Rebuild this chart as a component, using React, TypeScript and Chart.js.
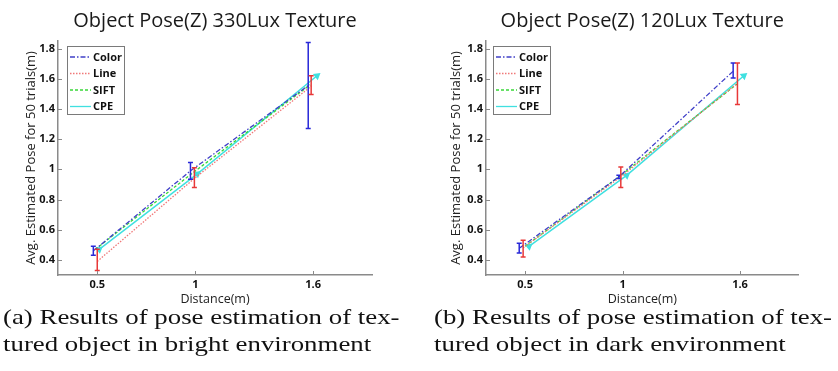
import React, { useEffect, useRef } from "react";
import { Chart, registerables } from "chart.js";
Chart.register(...registerables);

const X_TICKS = [0.5, 1, 1.6];
const Y_TICKS = [0.4, 0.6, 0.8, 1, 1.2, 1.4, 1.6, 1.8];
const SERIES_NAMES = ["Color", "Line", "SIFT", "CPE"];

// (a) 330Lux
const A_TITLE = "Object Pose(Z) 330Lux Texture";
const A_COLOR_X = [0.48, 0.975, 1.575];
const A_COLOR_Y = [0.46, 0.99, 1.555];
const A_COLOR_LO = [0.43, 0.935, 1.27];
const A_COLOR_HI = [0.49, 1.045, 1.84];
const A_LINE_X = [0.5, 0.995, 1.59];
const A_LINE_Y = [0.39, 0.94, 1.55];
const A_LINE_LO = [0.33, 0.88, 1.495];
const A_LINE_HI = [0.47, 1.01, 1.62];
const A_SIFT_X = [0.49, 0.985, 1.585];
const A_SIFT_Y = [0.47, 0.975, 1.56];
const A_CPE_X = [0.51, 1.01, 1.62];
const A_CPE_Y = [0.47, 0.97, 1.62];

// (b) 120Lux
const B_TITLE = "Object Pose(Z) 120Lux Texture";
const B_COLOR_X = [0.47, 0.98, 1.565];
const B_COLOR_Y = [0.477, 0.95, 1.65];
const B_COLOR_LO = [0.445, 0.94, 1.605];
const B_COLOR_HI = [0.51, 0.96, 1.705];
const B_LINE_X = [0.49, 0.99, 1.587];
const B_LINE_Y = [0.48, 0.95, 1.57];
const B_LINE_LO = [0.42, 0.88, 1.43];
const B_LINE_HI = [0.53, 1.015, 1.705];
const B_SIFT_X = [0.5, 1.0, 1.59];
const B_SIFT_Y = [0.49, 0.97, 1.57];
const B_CPE_X = [0.52, 1.02, 1.62];
const B_CPE_Y = [0.49, 0.96, 1.62];

const CAPTION_A = ["(a) Results of pose estimation of tex-", "tured object in bright environment"];
const CAPTION_B = ["(b) Results of pose estimation of tex-", "tured object in dark environment"];

const FONT = "'Open Sans', 'Noto Sans', sans-serif";
const AXIS_GRAY = "#8a8a8a";

const pts = (xs: number[], ys: number[]) => xs.map((x, i) => ({ x, y: ys[i] }));

const errorBarPlugin = {
  id: "errorBars",
  afterDatasetsDraw(chart: any) {
    const { ctx } = chart;
    const xs = chart.scales.x;
    const ys = chart.scales.y;
    chart.data.datasets.forEach((ds: any) => {
      if (!ds.errLo) return;
      ctx.save();
      ctx.strokeStyle = ds.errColor;
      ctx.lineWidth = 1.5;
      ds.data.forEach((p: any, j: number) => {
        const px = xs.getPixelForValue(p.x);
        const y1 = ys.getPixelForValue(ds.errLo[j]);
        const y2 = ys.getPixelForValue(ds.errHi[j]);
        ctx.beginPath();
        ctx.moveTo(px, y1);
        ctx.lineTo(px, y2);
        ctx.moveTo(px - 2.5, y1);
        ctx.lineTo(px + 2.5, y1);
        ctx.moveTo(px - 2.5, y2);
        ctx.lineTo(px + 2.5, y2);
        ctx.stroke();
      });
      ctx.restore();
    });
  },
};

const decorPlugin = {
  id: "decor",
  afterDraw(chart: any, _args: any, opts: any) {
    const { ctx, chartArea } = chart;
    const xs = chart.scales.x;
    const ys = chart.scales.y;
    ctx.save();
    // inward ticks
    ctx.strokeStyle = AXIS_GRAY;
    ctx.lineWidth = 1;
    ys.ticks.forEach((t: any) => {
      const py = Math.round(ys.getPixelForValue(t.value)) + 0.5;
      ctx.beginPath();
      ctx.moveTo(chartArea.left, py);
      ctx.lineTo(chartArea.left + 4, py);
      ctx.stroke();
    });
    xs.ticks.forEach((t: any) => {
      const px = Math.round(xs.getPixelForValue(t.value)) + 0.5;
      ctx.beginPath();
      ctx.moveTo(px, chartArea.bottom);
      ctx.lineTo(px, chartArea.bottom - 4);
      ctx.stroke();
    });
    // title
    ctx.fillStyle = "#1a1a1a";
    ctx.font = `20px ${FONT}`;
    ctx.textAlign = "center";
    ctx.textBaseline = "middle";
    ctx.fillText(opts.title, (chartArea.left + chartArea.right) / 2, 21);
    // legend
    const bx = chartArea.left + opts.legendDx;
    const by = chartArea.top + 5;
    const bw = 57;
    const bh = 68;
    ctx.fillStyle = "#ffffff";
    ctx.fillRect(bx, by, bw, bh);
    ctx.strokeStyle = "#7a7a7a";
    ctx.lineWidth = 1;
    ctx.strokeRect(Math.round(bx) + 0.5, Math.round(by) + 0.5, bw, bh);
    ctx.font = `bold 11px ${FONT}`;
    ctx.textAlign = "left";
    chart.data.datasets.forEach((ds: any, i: number) => {
      const ry = by + 11 + i * 16.5;
      ctx.save();
      ctx.strokeStyle = ds.borderColor;
      ctx.lineWidth = 1.3;
      ctx.setLineDash(ds.borderDash || []);
      ctx.beginPath();
      ctx.moveTo(bx + 3, ry);
      ctx.lineTo(bx + 24, ry);
      ctx.stroke();
      ctx.restore();
      ctx.fillStyle = "#111";
      ctx.fillText(ds.label, bx + 26, ry + 0.5);
    });
    ctx.restore();
  },
};

type Panel = {
  title: string;
  cx: number[]; cy: number[]; clo: number[]; chi: number[];
  lx: number[]; ly: number[]; llo: number[]; lhi: number[];
  sx: number[]; sy: number[];
  px: number[]; py: number[];
  yAxisW: number; padRight: number; yTitlePad: number; legendDx: number;
};

const PANEL_A: Panel = {
  title: A_TITLE,
  cx: A_COLOR_X, cy: A_COLOR_Y, clo: A_COLOR_LO, chi: A_COLOR_HI,
  lx: A_LINE_X, ly: A_LINE_Y, llo: A_LINE_LO, lhi: A_LINE_HI,
  sx: A_SIFT_X, sy: A_SIFT_Y, px: A_CPE_X, py: A_CPE_Y,
  yAxisW: 58, padRight: 47, yTitlePad: 23, legendDx: 9,
};
const PANEL_B: Panel = {
  title: B_TITLE,
  cx: B_COLOR_X, cy: B_COLOR_Y, clo: B_COLOR_LO, chi: B_COLOR_HI,
  lx: B_LINE_X, ly: B_LINE_Y, llo: B_LINE_LO, lhi: B_LINE_HI,
  sx: B_SIFT_X, sy: B_SIFT_Y, px: B_CPE_X, py: B_CPE_Y,
  yAxisW: 67, padRight: 39.4, yTitlePad: 29, legendDx: 7,
};

const CANVAS_H = 310;

function makeConfig(p: Panel): any {
  return {
    type: "scatter",
    data: {
      datasets: [
        {
          label: SERIES_NAMES[0],
          data: pts(p.cx, p.cy),
          showLine: true,
          borderColor: "#4040c8",
          borderWidth: 1.3,
          borderDash: [5, 2, 1.5, 2],
          pointRadius: 0,
          errLo: p.clo, errHi: p.chi, errColor: "#2828d8",
        },
        {
          label: SERIES_NAMES[1],
          data: pts(p.lx, p.ly),
          showLine: true,
          borderColor: "#f07878",
          borderWidth: 1.3,
          borderDash: [1.5, 1.5],
          pointRadius: 0,
          errLo: p.llo, errHi: p.lhi, errColor: "#e83838",
        },
        {
          label: SERIES_NAMES[2],
          data: pts(p.sx, p.sy),
          showLine: true,
          borderColor: "#38d838",
          borderWidth: 1.3,
          borderDash: [3, 2],
          pointRadius: 0,
        },
        {
          label: SERIES_NAMES[3],
          data: pts(p.px, p.py),
          showLine: true,
          borderColor: "#40e0e0",
          backgroundColor: "#40e0e0",
          borderWidth: 1.5,
          pointStyle: "triangle",
          pointRadius: 3,
          rotation: 51,
        },
      ],
    },
    options: {
      animation: false,
      responsive: false,
      maintainAspectRatio: false,
      layout: { padding: { left: 0, right: p.padRight, top: 41, bottom: 0 } },
      plugins: {
        legend: { display: false },
        title: { display: false },
        tooltip: { enabled: false },
        decor: { title: p.title, legendDx: p.legendDx },
      },
      scales: {
        x: {
          type: "linear",
          min: 0.3,
          max: 1.9,
          grid: { display: false, drawTicks: false },
          border: { display: true, color: AXIS_GRAY, width: 1.5 },
          afterBuildTicks: (s: any) => { s.ticks = X_TICKS.map((v) => ({ value: v })); },
          afterFit: (s: any) => { s.height = CANVAS_H - 275; },
          ticks: {
            color: "#111",
            font: { family: FONT, size: 11, weight: "bold" },
            padding: 3,
            callback: (v: any) => String(v),
          },
          title: {
            display: true,
            text: "Distance(m)",
            color: "#222",
            font: { family: FONT, size: 12.5 },
            padding: { top: 0, bottom: 3 },
          },
        },
        y: {
          type: "linear",
          min: 0.3,
          max: 1.85,
          grid: { display: false, drawTicks: false },
          border: { display: true, color: AXIS_GRAY, width: 1.5 },
          afterBuildTicks: (s: any) => { s.ticks = Y_TICKS.map((v) => ({ value: v })); },
          afterFit: (s: any) => { s.width = p.yAxisW; },
          ticks: {
            color: "#111",
            font: { family: FONT, size: 11, weight: "bold" },
            padding: 3,
            callback: (v: any) => String(Number(Number(v).toFixed(2))),
          },
          title: {
            display: true,
            text: "Avg. Estimated Pose for 50 trials(m)",
            color: "#222",
            font: { family: FONT, size: 13 },
            padding: { top: p.yTitlePad, bottom: 0 },
          },
        },
      },
    },
    plugins: [errorBarPlugin, decorPlugin],
  };
}

function PanelChart({ panel, left }: { panel: Panel; left: number }) {
  const ref = useRef<HTMLCanvasElement | null>(null);
  useEffect(() => {
    if (!ref.current) return;
    const chart = new Chart(ref.current, makeConfig(panel));
    return () => chart.destroy();
  }, [panel]);
  return (
    <canvas
      ref={ref}
      width={419}
      height={CANVAS_H}
      style={{ position: "absolute", left, top: 0, width: 419, height: CANVAS_H }}
    />
  );
}

const captionStyle = (left: number): React.CSSProperties => ({
  position: "absolute",
  left,
  top: 303,
  fontFamily: "'Liberation Serif', 'DejaVu Serif', serif",
  fontSize: 22,
  lineHeight: "27px",
  color: "#111",
  whiteSpace: "nowrap",
  transform: "scaleX(1.22)",
  transformOrigin: "0 0",
});

export default function App() {
  return (
    <div style={{ position: "absolute", left: 0, top: 0, width: 838, height: 371, background: "#fff", overflow: "hidden" }}>
      <PanelChart panel={PANEL_A} left={0} />
      <PanelChart panel={PANEL_B} left={419} />
      <div style={captionStyle(3)}>
        <div>{CAPTION_A[0]}</div>
        <div>{CAPTION_A[1]}</div>
      </div>
      <div style={captionStyle(434)}>
        <div>{CAPTION_B[0]}</div>
        <div>{CAPTION_B[1]}</div>
      </div>
    </div>
  );
}
